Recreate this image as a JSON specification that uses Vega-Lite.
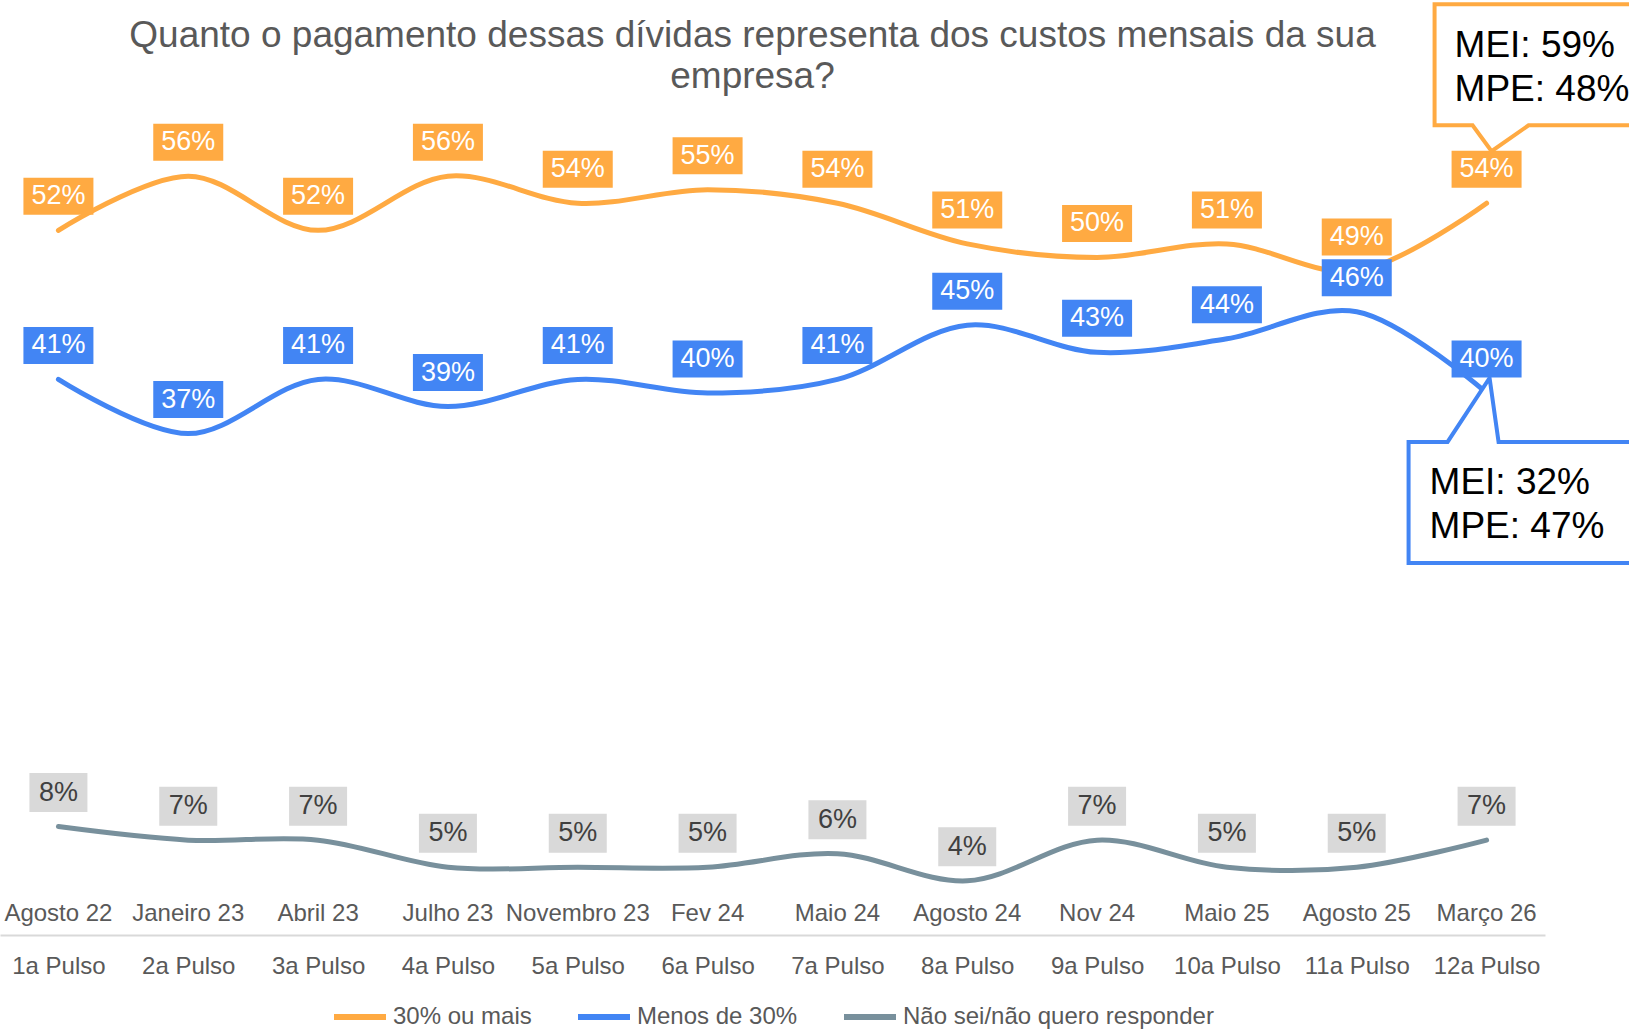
{
  "$schema": "https://vega.github.io/schema/vega-lite/v6.json",
  "width": 1545,
  "height": 935,
  "autosize": {"type": "none"},
  "padding": {"left": 0, "top": 0, "right": 84, "bottom": 95},
  "background": "white",
  "config": {
    "font": "Liberation Sans",
    "view": {"stroke": null},
    "legend": {"layout": {"bottom": {"anchor": "middle"}}}
  },
  "title": {
    "text": ["Quanto o pagamento dessas dívidas representa dos custos mensais da sua", "empresa?"],
    "fontSize": 37,
    "font": "Liberation Sans",
    "fontWeight": "normal",
    "color": "#595959",
    "lineHeight": 41,
    "anchor": "middle",
    "frame": "group",
    "dx": -20,
    "offset": -100
  },
  "datasets": {
    "dados": [
      {"pulso": "1a Pulso", "serie": "30% ou mais", "valor": 0.52},
      {"pulso": "1a Pulso", "serie": "Menos de 30%", "valor": 0.41},
      {"pulso": "1a Pulso", "serie": "Não sei/não quero responder", "valor": 0.08},
      {"pulso": "2a Pulso", "serie": "30% ou mais", "valor": 0.56},
      {"pulso": "2a Pulso", "serie": "Menos de 30%", "valor": 0.37},
      {"pulso": "2a Pulso", "serie": "Não sei/não quero responder", "valor": 0.07},
      {"pulso": "3a Pulso", "serie": "30% ou mais", "valor": 0.52},
      {"pulso": "3a Pulso", "serie": "Menos de 30%", "valor": 0.41},
      {"pulso": "3a Pulso", "serie": "Não sei/não quero responder", "valor": 0.07},
      {"pulso": "4a Pulso", "serie": "30% ou mais", "valor": 0.56},
      {"pulso": "4a Pulso", "serie": "Menos de 30%", "valor": 0.39},
      {"pulso": "4a Pulso", "serie": "Não sei/não quero responder", "valor": 0.05},
      {"pulso": "5a Pulso", "serie": "30% ou mais", "valor": 0.54},
      {"pulso": "5a Pulso", "serie": "Menos de 30%", "valor": 0.41},
      {"pulso": "5a Pulso", "serie": "Não sei/não quero responder", "valor": 0.05},
      {"pulso": "6a Pulso", "serie": "30% ou mais", "valor": 0.55},
      {"pulso": "6a Pulso", "serie": "Menos de 30%", "valor": 0.40},
      {"pulso": "6a Pulso", "serie": "Não sei/não quero responder", "valor": 0.05},
      {"pulso": "7a Pulso", "serie": "30% ou mais", "valor": 0.54},
      {"pulso": "7a Pulso", "serie": "Menos de 30%", "valor": 0.41},
      {"pulso": "7a Pulso", "serie": "Não sei/não quero responder", "valor": 0.06},
      {"pulso": "8a Pulso", "serie": "30% ou mais", "valor": 0.51},
      {"pulso": "8a Pulso", "serie": "Menos de 30%", "valor": 0.45},
      {"pulso": "8a Pulso", "serie": "Não sei/não quero responder", "valor": 0.04},
      {"pulso": "9a Pulso", "serie": "30% ou mais", "valor": 0.50},
      {"pulso": "9a Pulso", "serie": "Menos de 30%", "valor": 0.43},
      {"pulso": "9a Pulso", "serie": "Não sei/não quero responder", "valor": 0.07},
      {"pulso": "10a Pulso", "serie": "30% ou mais", "valor": 0.51},
      {"pulso": "10a Pulso", "serie": "Menos de 30%", "valor": 0.44},
      {"pulso": "10a Pulso", "serie": "Não sei/não quero responder", "valor": 0.05},
      {"pulso": "11a Pulso", "serie": "30% ou mais", "valor": 0.49},
      {"pulso": "11a Pulso", "serie": "Menos de 30%", "valor": 0.46},
      {"pulso": "11a Pulso", "serie": "Não sei/não quero responder", "valor": 0.05},
      {"pulso": "12a Pulso", "serie": "30% ou mais", "valor": 0.54},
      {"pulso": "12a Pulso", "serie": "Menos de 30%", "valor": 0.40},
      {"pulso": "12a Pulso", "serie": "Não sei/não quero responder", "valor": 0.07}
    ],
    "rodadas": [
      {"pulso": "1a Pulso", "mes": "Agosto 22"},
      {"pulso": "2a Pulso", "mes": "Janeiro 23"},
      {"pulso": "3a Pulso", "mes": "Abril 23"},
      {"pulso": "4a Pulso", "mes": "Julho 23"},
      {"pulso": "5a Pulso", "mes": "Novembro 23"},
      {"pulso": "6a Pulso", "mes": "Fev 24"},
      {"pulso": "7a Pulso", "mes": "Maio 24"},
      {"pulso": "8a Pulso", "mes": "Agosto 24"},
      {"pulso": "9a Pulso", "mes": "Nov 24"},
      {"pulso": "10a Pulso", "mes": "Maio 25"},
      {"pulso": "11a Pulso", "mes": "Agosto 25"},
      {"pulso": "12a Pulso", "mes": "Março 26"}
    ],
    "notas": [
      {"pulso": "12a Pulso", "serie": "30% ou mais", "valor": 0.54, "texto": "MEI: 59%\nMPE: 48%"},
      {"pulso": "12a Pulso", "serie": "Menos de 30%", "valor": 0.40, "texto": "MEI: 32%\nMPE: 47%"}
    ]
  },
  "encoding": {
    "x": {
      "field": "pulso",
      "type": "ordinal",
      "scale": {
        "type": "point",
        "padding": 0.45,
        "domain": ["1a Pulso", "2a Pulso", "3a Pulso", "4a Pulso", "5a Pulso", "6a Pulso", "7a Pulso", "8a Pulso", "9a Pulso", "10a Pulso", "11a Pulso", "12a Pulso"]
      },
      "axis": {
        "title": null,
        "labelAngle": 0,
        "labelFont": "Liberation Sans",
        "labelFontSize": 24,
        "labelColor": "#595959",
        "labelBaseline": "middle",
        "labelPadding": 31,
        "ticks": false,
        "tickSize": 0,
        "grid": false,
        "domain": true,
        "domainColor": "#D9D9D9",
        "domainWidth": 2
      }
    }
  },
  "layer": [
    {
      "data": {"name": "dados"},
      "mark": {"type": "line", "interpolate": "catmull-rom", "strokeWidth": 5, "strokeCap": "round"},
      "encoding": {
        "y": {"field": "valor", "type": "quantitative", "scale": {"domain": [0, 0.69]}, "axis": null},
        "color": {
          "field": "serie",
          "type": "nominal",
          "scale": {
            "domain": ["30% ou mais", "Menos de 30%", "Não sei/não quero responder"],
            "range": ["#FFAA42", "#4285F4", "#78909C"]
          },
          "legend": {
            "title": null,
            "orient": "bottom",
            "direction": "horizontal",
            "symbolType": "stroke",
            "symbolSize": 2704,
            "symbolStrokeWidth": 6,
            "labelFont": "Liberation Sans",
            "labelFontSize": 24,
            "labelColor": "#595959",
            "labelOffset": 4,
            "labelLimit": 400,
            "columnPadding": 34,
            "offset": 10,
            "padding": 0
          }
        }
      }
    },
    {
      "data": {"name": "rodadas"},
      "mark": {"type": "text", "fontSize": 24, "color": "#595959", "baseline": "middle", "dy": -21},
      "encoding": {
        "y": {"datum": 0, "type": "quantitative", "scale": {"domain": [0, 0.69]}, "axis": null},
        "text": {"field": "mes", "type": "nominal"}
      }
    },
    {
      "data": {"name": "notas"},
      "transform": [{"filter": "datum.serie === '30% ou mais'"}],
      "mark": {
        "type": "point",
        "shape": "M -52 -199 H 200 V -78 H 42 L 5 -52 L -14 -78 H -52 Z",
        "size": 4,
        "filled": true,
        "fill": "white",
        "stroke": "#FFAA42",
        "strokeWidth": 4,
        "strokeJoin": "miter",
        "opacity": 1
      },
      "encoding": {"y": {"field": "valor", "type": "quantitative", "scale": {"domain": [0, 0.69]}, "axis": null}}
    },
    {
      "data": {"name": "notas"},
      "transform": [{"filter": "datum.serie === 'Menos de 30%'"}],
      "mark": {
        "type": "point",
        "shape": "M -78 49 H -39 L 3 -15 L 12 49 H 200 V 170 H -78 Z",
        "size": 4,
        "filled": true,
        "fill": "white",
        "stroke": "#4285F4",
        "strokeWidth": 4,
        "strokeJoin": "miter",
        "opacity": 1
      },
      "encoding": {"y": {"field": "valor", "type": "quantitative", "scale": {"domain": [0, 0.69]}, "axis": null}}
    },
    {
      "data": {"name": "dados"},
      "transform": [{"filter": "datum.serie === '30% ou mais'"}],
      "mark": {"type": "point", "shape": "M -35 -18.5 H 35 V 18.5 H -35 Z", "size": 4, "filled": true, "color": "#FFAA42", "opacity": 1, "strokeWidth": 0, "yOffset": -34},
      "encoding": {"y": {"field": "valor", "type": "quantitative", "scale": {"domain": [0, 0.69]}, "axis": null}}
    },
    {
      "data": {"name": "dados"},
      "transform": [{"filter": "datum.serie === '30% ou mais'"}],
      "mark": {"type": "text", "fontSize": 27, "color": "white", "baseline": "middle", "dy": -34},
      "encoding": {
        "y": {"field": "valor", "type": "quantitative", "scale": {"domain": [0, 0.69]}, "axis": null},
        "text": {"field": "valor", "type": "quantitative", "format": ".0%"}
      }
    },
    {
      "data": {"name": "dados"},
      "transform": [{"filter": "datum.serie === 'Menos de 30%'"}],
      "mark": {"type": "point", "shape": "M -35 -18.5 H 35 V 18.5 H -35 Z", "size": 4, "filled": true, "color": "#4285F4", "opacity": 1, "strokeWidth": 0, "yOffset": -34},
      "encoding": {"y": {"field": "valor", "type": "quantitative", "scale": {"domain": [0, 0.69]}, "axis": null}}
    },
    {
      "data": {"name": "dados"},
      "transform": [{"filter": "datum.serie === 'Menos de 30%'"}],
      "mark": {"type": "text", "fontSize": 27, "color": "white", "baseline": "middle", "dy": -34},
      "encoding": {
        "y": {"field": "valor", "type": "quantitative", "scale": {"domain": [0, 0.69]}, "axis": null},
        "text": {"field": "valor", "type": "quantitative", "format": ".0%"}
      }
    },
    {
      "data": {"name": "dados"},
      "transform": [{"filter": "datum.serie === 'Não sei/não quero responder'"}],
      "mark": {"type": "point", "shape": "M -29 -19.5 H 29 V 19.5 H -29 Z", "size": 4, "filled": true, "color": "#D9D9D9", "opacity": 1, "strokeWidth": 0, "yOffset": -34},
      "encoding": {"y": {"field": "valor", "type": "quantitative", "scale": {"domain": [0, 0.69]}, "axis": null}}
    },
    {
      "data": {"name": "dados"},
      "transform": [{"filter": "datum.serie === 'Não sei/não quero responder'"}],
      "mark": {"type": "text", "fontSize": 27, "color": "#404040", "baseline": "middle", "dy": -34},
      "encoding": {
        "y": {"field": "valor", "type": "quantitative", "scale": {"domain": [0, 0.69]}, "axis": null},
        "text": {"field": "valor", "type": "quantitative", "format": ".0%"}
      }
    },
    {
      "data": {"name": "notas"},
      "transform": [{"filter": "datum.serie === '30% ou mais'"}],
      "mark": {"type": "text", "fontSize": 37, "color": "black", "align": "left", "baseline": "middle", "lineBreak": "\n", "lineHeight": 44, "dx": -32, "dy": -157},
      "encoding": {
        "y": {"field": "valor", "type": "quantitative", "scale": {"domain": [0, 0.69]}, "axis": null},
        "text": {"field": "texto", "type": "nominal"}
      }
    },
    {
      "data": {"name": "notas"},
      "transform": [{"filter": "datum.serie === 'Menos de 30%'"}],
      "mark": {"type": "text", "fontSize": 37, "color": "black", "align": "left", "baseline": "middle", "lineBreak": "\n", "lineHeight": 44, "dx": -57, "dy": 90},
      "encoding": {
        "y": {"field": "valor", "type": "quantitative", "scale": {"domain": [0, 0.69]}, "axis": null},
        "text": {"field": "texto", "type": "nominal"}
      }
    }
  ]
}
